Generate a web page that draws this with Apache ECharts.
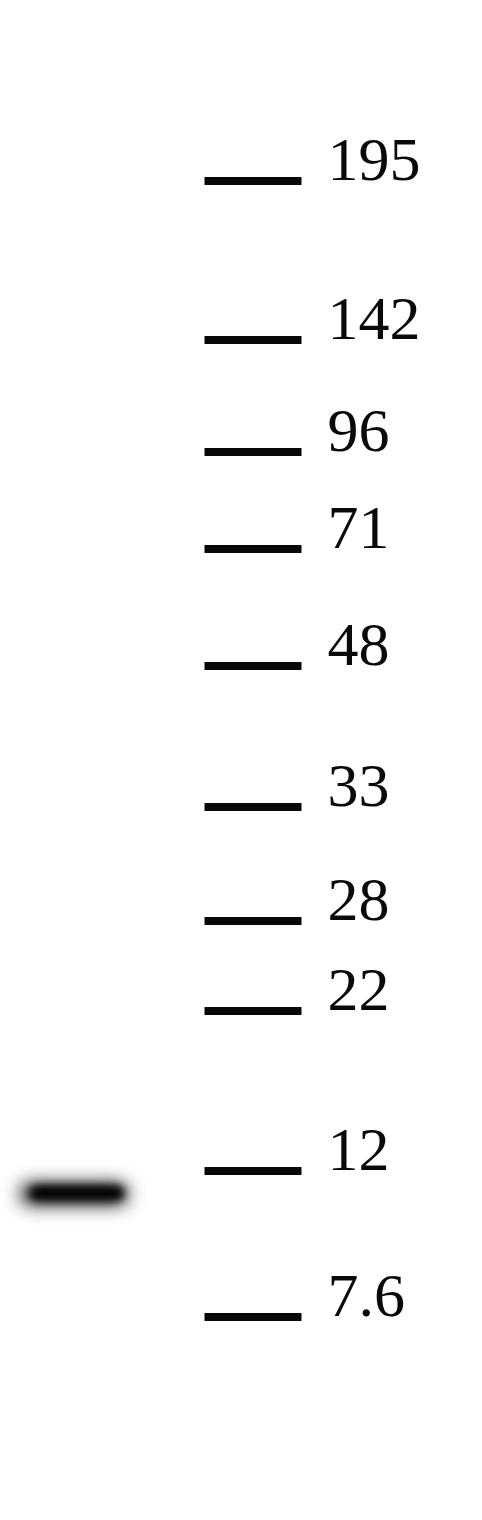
<!DOCTYPE html>
<html>
<head>
<meta charset="utf-8">
<script src="https://cdn.jsdelivr.net/npm/echarts@6/dist/echarts.min.js"></script>
<style>
  html, body { margin: 0; padding: 0; background: #fff; }
  #blot { width: 482px; height: 1520px; }
</style>
</head>
<body>
<div id="blot"></div>
<script>
// marker ladder (kDa) and where each marker sits on the blot (y, px from top)
var markerLabels = ['195', '142', '96', '71', '48', '33', '28', '22', '12', '7.6'];
var markerY = [181, 340, 452, 549, 666, 807, 921, 1011, 1171, 1317];
var markerX = 253;

// the single band in the sample lane (centre x, centre y, half-width in axis units)
var bandX = [74];
var bandY = [1194];
var bandHalfWidth = [54];

var myChart = echarts.init(document.getElementById('blot'));

// band = blurred rounded bar; shape drawn off-canvas, only its shadow lands on the blot
function renderBand(params, api) {
  var c = api.coord([api.value(0), api.value(1)]);
  var w = api.size([api.value(2), 0])[0];
  var shift = 2000;
  return {
    type: 'group',
    children: [
      {
        type: 'rect',
        shape: { x: c[0] - w - shift, y: c[1] - 11, width: 2 * w, height: 22, r: 11 },
        style: { fill: '#000', shadowBlur: 18, shadowOffsetX: shift, shadowColor: 'rgba(0,0,0,0.9)' }
      },
      {
        type: 'rect',
        shape: { x: c[0] - w + 10 - shift, y: c[1] - 8, width: 2 * w - 14, height: 14, r: 7 },
        style: { fill: '#000', shadowBlur: 8, shadowOffsetX: shift, shadowColor: 'rgba(0,0,0,1)' }
      }
    ]
  };
}

var option = {
  backgroundColor: '#ffffff',
  animation: false,
  grid: { left: 0, right: 0, top: 0, bottom: 0 },
  xAxis: { type: 'value', min: 0, max: 482, show: false },
  yAxis: { type: 'value', min: 0, max: 1520, inverse: true, show: false },
  series: [
    {
      name: 'marker',
      type: 'scatter',
      symbol: 'rect',
      symbolSize: [97, 8],
      itemStyle: { color: '#080808', opacity: 1 },
      data: markerY.map(function (y, i) { return [markerX, y, markerLabels[i]]; }),
      label: {
        show: true,
        position: 'right',
        distance: 26,
        offset: [0, -17],
        formatter: function (p) { return p.value[2]; },
        fontFamily: '"Liberation Serif", "DejaVu Serif", serif',
        fontSize: 62,
        color: '#0a0a0a',
        opacity: 1
      }
    },
    {
      name: 'band',
      type: 'custom',
      renderItem: renderBand,
      data: bandX.map(function (x, i) { return [x, bandY[i], bandHalfWidth[i]]; })
    }
  ]
};

myChart.setOption(option);
</script>
</body>
</html>
